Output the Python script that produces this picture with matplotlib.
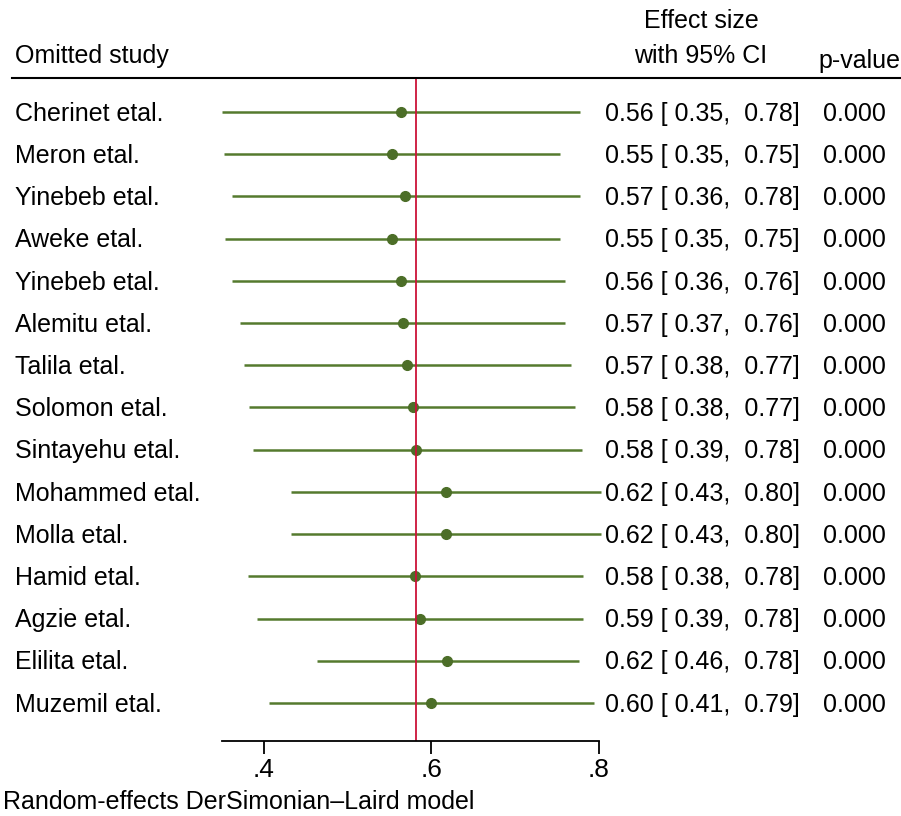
import numpy as np
import matplotlib
matplotlib.use('Agg')
import matplotlib.pyplot as plt
import matplotlib.transforms as mtransforms

plt.rcParams['font.family'] = ['Liberation Sans', 'DejaVu Sans']

# leave-one-out results
studies = ['Cherinet etal.', 'Meron etal.', 'Yinebeb etal.', 'Aweke etal.',
           'Yinebeb etal.', 'Alemitu etal.', 'Talila etal.', 'Solomon etal.',
           'Sintayehu etal.', 'Mohammed etal.', 'Molla etal.', 'Hamid etal.',
           'Agzie etal.', 'Elilita etal.', 'Muzemil etal.']
est = [0.564, 0.553, 0.569, 0.553, 0.564, 0.566, 0.571, 0.578, 0.581,
       0.617, 0.617, 0.580, 0.586, 0.619, 0.600]
lo = [0.350, 0.352, 0.362, 0.353, 0.362, 0.371, 0.376, 0.382, 0.387,
      0.432, 0.432, 0.381, 0.392, 0.463, 0.406]
hi = [0.777, 0.754, 0.777, 0.754, 0.759, 0.759, 0.766, 0.771, 0.780,
      0.802, 0.802, 0.781, 0.781, 0.776, 0.794]
pvals = [0.000] * 15
overall = 0.581
xticks = [0.4, 0.6, 0.8]
xticklabels = ['.4', '.6', '.8']

W, H = 901, 816
fig = plt.figure(figsize=(W / 100, H / 100), dpi=100)

# axes: x from .35 (px 222) to .8 (px 599); y from px 78 to 741
ax = fig.add_axes([222 / W, 1 - 741 / H, 377 / W, (741 - 78) / H])
n = len(studies)
rows = np.arange(n)
green = '#557a2e'
ax.hlines(rows, lo, hi, color=green, lw=1.8, clip_on=False)
ax.plot(est, rows, 'o', color='#4c6e28', ms=7, clip_on=False)
ax.axvline(overall, color='#cc1238', lw=1.3)

ax.set_xlim(0.35, 0.8)
ax.set_ylim(14 + 38 / 42.2, -34 / 42.2)
for s in ['top', 'right', 'left']:
    ax.spines[s].set_visible(False)
ax.spines['bottom'].set_linewidth(1.3)
ax.set_yticks([])
ax.set_xticks(xticks)
ax.set_xticklabels(xticklabels, fontsize=19)
ax.tick_params(axis='x', length=9, width=1.3, pad=3)

trans = mtransforms.blended_transform_factory(fig.transFigure, ax.transData)
fs = 18
dy = 0.04  # small nudge so text sits on the line like the original
for i in range(n):
    ax.text(15 / W, i + dy, studies[i], transform=trans, ha='left', va='center', fontsize=fs)
    lab = '%.2f [ %.2f,  %.2f]' % (est[i], lo[i], hi[i])
    ax.text(800 / W, i + dy, lab, transform=trans, ha='right', va='center', fontsize=fs)
    ax.text(886 / W, i + dy, '%.3f' % pvals[i], transform=trans, ha='right', va='center', fontsize=fs)

# header
fig.text(15 / W, 1 - 56 / H, 'Omitted study', ha='left', va='center', fontsize=fs)
fig.text(701 / W, 1 - 21 / H, 'Effect size', ha='center', va='center', fontsize=fs)
fig.text(701 / W, 1 - 56 / H, 'with 95% CI', ha='center', va='center', fontsize=fs)
fig.text(859 / W, 1 - 61 / H, 'p-value', ha='center', va='center', fontsize=fs)
fig.add_artist(plt.Line2D([12 / W, 1], [1 - 78 / H, 1 - 78 / H], color='black', lw=1.5))

fig.text(3 / W, 1 - 802 / H, 'Random-effects DerSimonian\u2013Laird model',
         ha='left', va='center', fontsize=fs)

fig.savefig('out.png', dpi=100, facecolor='white')
